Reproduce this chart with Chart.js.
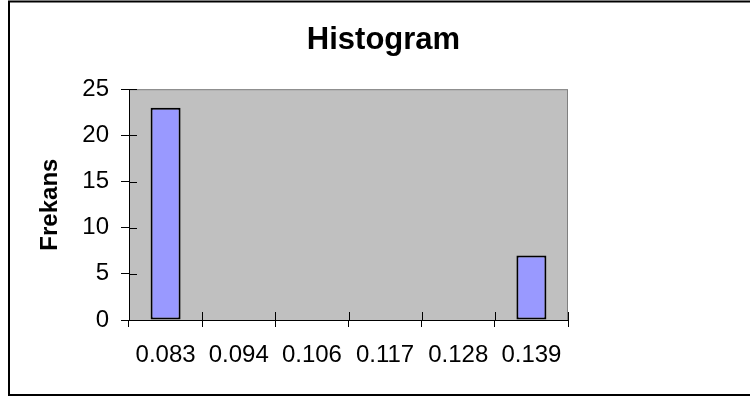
<!DOCTYPE html>
<html>
<head>
<meta charset="utf-8">
<script src="https://cdn.jsdelivr.net/npm/chart.js@4/dist/chart.umd.min.js"></script>
<style>
  html, body { margin: 0; padding: 0; background: #fff; }
  #wrap { width: 750px; height: 398px; }
</style>
</head>
<body>
<div id="wrap"><canvas id="chart" width="750" height="398"></canvas></div>
<script>
// Bin labels (upper edges) and the count in each bin
const categories = ['0.083', '0.094', '0.106', '0.117', '0.128', '0.139'];
const frequencies = [23, 0, 0, 0, 0, 7];
// Frequency axis range
const yMin = 0;
const yMax = 25;
const yStep = 5;

const FONT = 'Liberation Sans, Arial, Helvetica, sans-serif';

// Grey plot area with a thin darker frame, plus the outer chart border
const frames = {
  id: 'frames',
  beforeDraw(chart) {
    const { ctx, chartArea: a } = chart;
    ctx.save();
    ctx.fillStyle = '#fff';
    ctx.fillRect(0, 0, chart.width, chart.height);
    ctx.fillStyle = '#C0C0C0';
    ctx.fillRect(a.left, a.top, a.right - a.left, a.bottom - a.top);
    ctx.strokeStyle = '#808080';
    ctx.lineWidth = 1;
    ctx.strokeRect(a.left + 0.5, a.top + 0.5, a.right - a.left - 1, a.bottom - a.top);
    ctx.strokeStyle = '#000';
    ctx.lineWidth = 2;
    ctx.strokeRect(9, 1.5, chart.width, 393.5);
    ctx.restore();
  },
  // inner halves of the crossing tick marks
  afterDatasetsDraw(chart) {
    const { ctx, chartArea: a, scales } = chart;
    const len = 8;
    ctx.save();
    ctx.strokeStyle = '#000';
    ctx.lineWidth = 1;
    ctx.beginPath();
    const x = scales.x;
    for (let i = 0; i <= categories.length; i++) {
      const px = Math.round(x.getPixelForValue(i - 0.5)) + 0.5;
      ctx.moveTo(px, a.bottom);
      ctx.lineTo(px, a.bottom - len);
    }
    const y = scales.y;
    y.ticks.forEach(t => {
      const py = Math.round(y.getPixelForValue(t.value)) + 0.5;
      ctx.moveTo(a.left, py);
      ctx.lineTo(a.left + len, py);
    });
    ctx.stroke();
    ctx.restore();
  }
};

new Chart(document.getElementById('chart'), {
  type: 'bar',
  data: {
    labels: categories,
    datasets: [{
      label: 'Frekans',
      data: frequencies,
      backgroundColor: '#9999FF',
      borderColor: '#000',
      borderWidth: 2,
      borderSkipped: false,
      barPercentage: 0.41,
      categoryPercentage: 1.0
    }]
  },
  options: {
    responsive: false,
    devicePixelRatio: 1,
    animation: false,
    layout: { padding: { left: 17, right: 0, top: 0, bottom: 0 } },
    plugins: {
      legend: { display: false },
      tooltip: { enabled: false },
      title: {
        display: true,
        text: 'Histogram',
        color: '#000',
        font: { family: FONT, size: 31, weight: 'bold', lineHeight: 1.2 },
        padding: { top: 22, bottom: 30 }
      }
    },
    scales: {
      x: {
        offset: true,
        grid: {
          display: true,
          offset: true,
          drawOnChartArea: false,
          drawTicks: true,
          tickLength: 7,
          tickColor: '#000',
          color: '#000'
        },
        border: { display: true, color: '#000', width: 1 },
        ticks: {
          color: '#000',
          font: { family: FONT, size: 24 },
          padding: 14,
          maxRotation: 0,
          autoSkip: false
        },
        afterFit(scale) { scale.height = 78; }
      },
      y: {
        min: yMin,
        max: yMax,
        grid: {
          display: true,
          drawOnChartArea: false,
          drawTicks: true,
          tickLength: 8,
          tickColor: '#000',
          color: '#000'
        },
        border: { display: true, color: '#000', width: 1 },
        ticks: {
          stepSize: yStep,
          color: '#000',
          font: { family: FONT, size: 24 },
          padding: 12
        },
        title: {
          display: true,
          text: 'Frekans',
          color: '#000',
          font: { family: FONT, size: 24, weight: 'bold', lineHeight: 1.2 },
          padding: { top: 19, bottom: 0 }
        },
        afterFit(scale) { scale.width = 112; }
      },
      // empty right-hand gutter that keeps the plot area narrow
      gutter: {
        type: 'linear',
        position: 'right',
        display: true,
        grid: { display: false, drawTicks: false },
        border: { display: false },
        ticks: { display: false },
        afterFit(scale) { scale.width = 182; }
      }
    }
  },
  plugins: [frames]
});
</script>
</body>
</html>
